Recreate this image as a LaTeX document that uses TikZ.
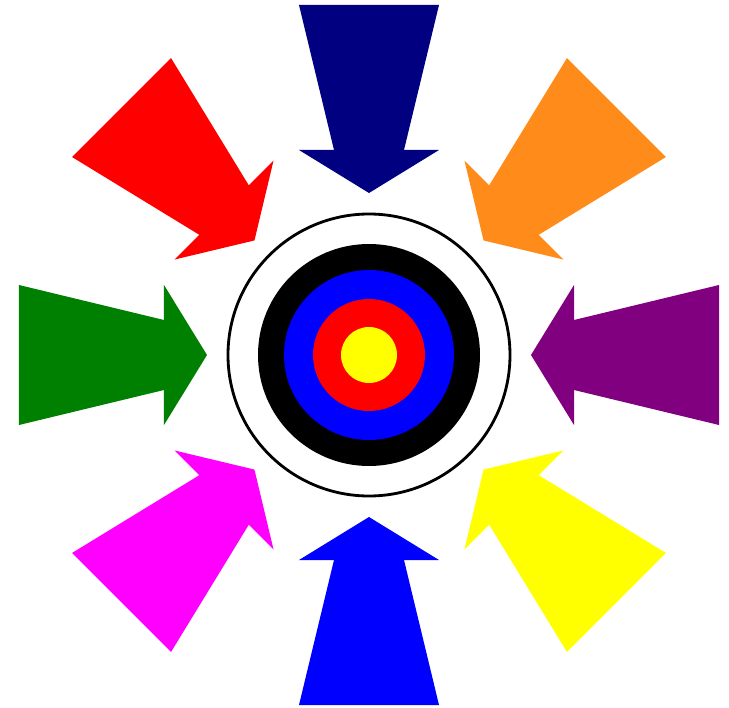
\documentclass[tikz,border=0pt]{standalone}
\usepackage{xcolor}
\usepackage{tikz}

\definecolor{arrowNavy}{RGB}{0,0,128}
\definecolor{arrowOrange}{RGB}{255,140,26}
\definecolor{arrowPurple}{RGB}{128,0,128}
\definecolor{arrowGreen}{RGB}{0,128,0}
\definecolor{arrowYellow}{RGB}{255,255,0}
\definecolor{arrowBlue}{RGB}{0,0,255}
\definecolor{arrowMagenta}{RGB}{255,0,255}
\definecolor{arrowRed}{RGB}{255,0,0}

\begin{document}
\begin{tikzpicture}[
  ring/.style={line width=1.6pt, draw=black, fill=white},
]
\useasboundingbox (-7.38,-7.04) rectangle (7.2,7.1);

% Arrows pointing in
\foreach \ang/\col in {90/arrowNavy, 45/arrowOrange, 0/arrowPurple, -45/arrowYellow,
                       -90/arrowBlue, -135/arrowMagenta, 180/arrowGreen, 135/arrowRed} {
  \fill[\col, rotate=\ang] (7.0,1.4) -- (4.1,0.7) -- (4.1,1.4) -- (3.24,0)
    -- (4.1,-1.4) -- (4.1,-0.7) -- (7.0,-1.4) -- cycle;
}

% Target
\draw[ring] (0,0) circle (2.82);
\fill[black] (0,0) circle (2.22);
\fill[arrowBlue] (0,0) circle (1.70);
\fill[arrowRed] (0,0) circle (1.12);
\fill[arrowYellow] (0,0) circle (0.56);
\end{tikzpicture}
\end{document}
